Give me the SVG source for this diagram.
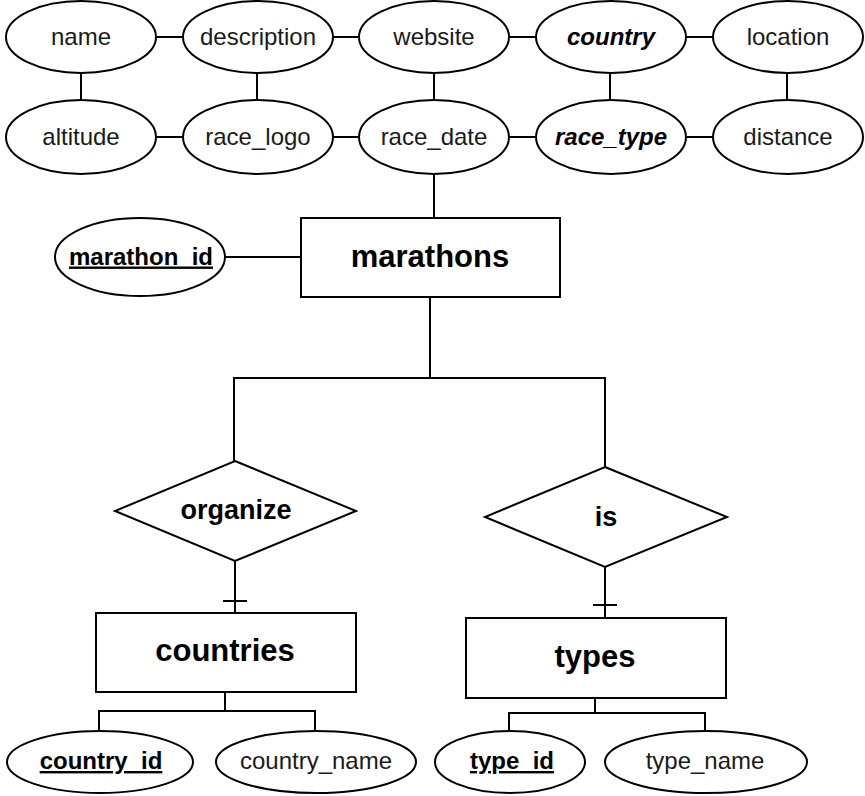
<svg xmlns="http://www.w3.org/2000/svg" width="865" height="796" viewBox="0 0 865 796">
<style>
.s{fill:#fff;stroke:#000;stroke-width:2}
.c{fill:none;stroke:#000;stroke-width:2}
text{font-family:"Liberation Sans",Arial,sans-serif;fill:#1a1a1a;text-anchor:middle}
.a{font-size:24px}
.k{font-size:24px;font-weight:bold;text-decoration:underline;fill:#000}
.f{font-size:24px;font-weight:bold;font-style:italic;fill:#000}
.e{font-size:31px;font-weight:bold;fill:#000}
.r{font-size:27px;font-weight:bold;fill:#000}
</style>
<g id="connectors">
<path class="c" d="M157 37H183M333 37H358M509 37H536M687 37H713"/>
<path class="c" d="M157 137H183M333 137H358M509 137H536M687 137H713"/>
<path class="c" d="M81 74V100M257 74V100M434 74V100M610 74V100M787 74V100"/>
<path class="c" d="M434 174V218"/>
<path class="c" d="M225 257H301"/>
<path class="c" d="M430 297V378H234V461M430 378H605V467"/>
<path class="c" d="M235 561V613M223 601H247"/>
<path class="c" d="M605 567V618M593 605H617"/>
<path class="c" d="M225 692V711H99V731M225 711H315V731"/>
<path class="c" d="M595 698V713H509V731M595 713H705V731"/>
</g>
<g id="name"><ellipse class="s" cx="81" cy="37" rx="75" ry="36"/><text class="a" x="81" y="44.5">name</text></g>
<g id="description"><ellipse class="s" cx="258" cy="37" rx="75" ry="36"/><text class="a" x="258" y="44.5">description</text></g>
<g id="website"><ellipse class="s" cx="434" cy="37" rx="75" ry="36"/><text class="a" x="434" y="44.5">website</text></g>
<g id="country"><ellipse class="s" cx="611" cy="37" rx="75" ry="36"/><text class="f" x="611" y="44.5">country</text></g>
<g id="location"><ellipse class="s" cx="788" cy="37" rx="75" ry="36"/><text class="a" x="788" y="44.5">location</text></g>
<g id="altitude"><ellipse class="s" cx="81" cy="137" rx="75" ry="37"/><text class="a" x="81" y="144.5">altitude</text></g>
<g id="race_logo"><ellipse class="s" cx="258" cy="137" rx="75" ry="37"/><text class="a" x="258" y="144.5">race_logo</text></g>
<g id="race_date"><ellipse class="s" cx="434" cy="137" rx="75" ry="37"/><text class="a" x="434" y="144.5">race_date</text></g>
<g id="race_type"><ellipse class="s" cx="611" cy="137" rx="75" ry="37"/><text class="f" x="611" y="144.5">race_type</text></g>
<g id="distance"><ellipse class="s" cx="788" cy="137" rx="75" ry="37"/><text class="a" x="788" y="144.5">distance</text></g>
<g id="marathon_id"><ellipse class="s" cx="140" cy="257" rx="85" ry="39"/><text class="k" x="141" y="264.5">marathon_id</text></g>
<g id="marathons"><rect class="s" x="301" y="218" width="259" height="79"/><text class="e" x="430" y="267">marathons</text></g>
<g id="organize"><polygon class="s" points="235,461 356,511 235,561 115,511"/><text class="r" x="236" y="519">organize</text></g>
<g id="is"><polygon class="s" points="605,467 727,517 605,567 485,517"/><text class="r" x="606" y="526">is</text></g>
<g id="countries"><rect class="s" x="96" y="613" width="260" height="79"/><text class="e" x="225" y="661">countries</text></g>
<g id="types"><rect class="s" x="466" y="618" width="260" height="80"/><text class="e" x="595" y="667">types</text></g>
<g id="country_id"><ellipse class="s" cx="100" cy="762" rx="93" ry="31"/><text class="k" x="101" y="769">country_id</text></g>
<g id="country_name"><ellipse class="s" cx="316" cy="762" rx="100" ry="31"/><text class="a" x="316" y="769">country_name</text></g>
<g id="type_id"><ellipse class="s" cx="510" cy="762" rx="75" ry="31"/><text class="k" x="512" y="769">type_id</text></g>
<g id="type_name"><ellipse class="s" cx="706" cy="762" rx="101" ry="31"/><text class="a" x="705" y="769">type_name</text></g>
</svg>
